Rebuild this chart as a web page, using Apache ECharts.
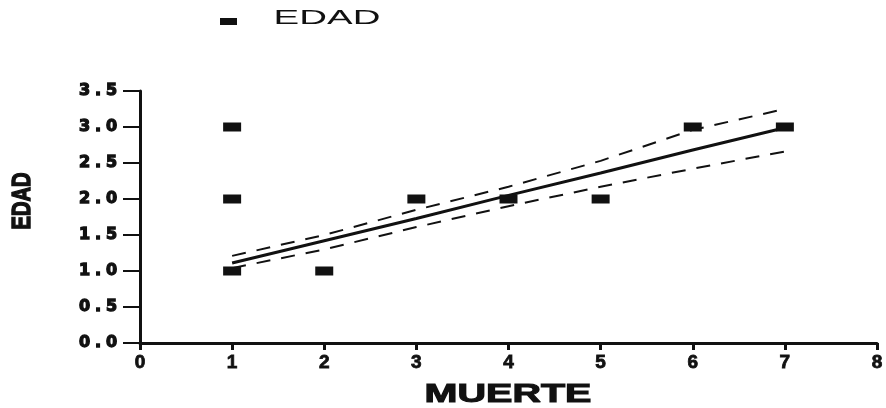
<!DOCTYPE html>
<html>
<head>
<meta charset="utf-8">
<script src="https://cdn.jsdelivr.net/npm/echarts@6/dist/echarts.min.js"></script>
<style>
  html, body { margin: 0; padding: 0; background: #fff; }
  #chart { width: 886px; height: 408px; }
</style>
</head>
<body>
<div id="chart"></div>
<script>
// Observed cases: MUERTE (x) against EDAD (y)
const muerte = [1, 1, 1, 2, 3, 4, 5, 6, 7];
const edad   = [1, 2, 3, 1, 2, 2, 2, 3, 3];

// Fitted line and its confidence band, sampled at each MUERTE value
const fitX   = [1, 2, 3, 4, 5, 6, 7];
const fitY   = [1.11, 1.42, 1.73, 2.05, 2.36, 2.68, 2.99];
const upperY = [1.21, 1.50, 1.85, 2.17, 2.53, 2.96, 3.25];
const lowerY = [1.04, 1.30, 1.61, 1.90, 2.17, 2.42, 2.66];

const seriesName = 'EDAD';
const xName = 'MUERTE';
const yName = 'EDAD';

const ink = '#111111';
const pairs = (xs, ys) => xs.map((x, i) => [x, ys[i]]);

const chart = echarts.init(document.getElementById('chart'), null, { renderer: 'canvas' });

// y tick labels drawn wide, one boxed cell per character
function wideLabel(v) {
  return v.toFixed(1).split('').map(c => c === '.' ? '{p|.}' : '{d|' + c + '}').join('');
}

const heavy = { textBorderColor: ink, textBorderWidth: 1.3 };

const option = {
  animation: false,
  backgroundColor: '#ffffff',
  grid: { left: 140, right: 9, top: 91, bottom: 65, containLabel: false },
  legend: {
    left: 215, top: 13,
    itemWidth: 17, itemHeight: 7,
    icon: 'rect',
    itemStyle: { color: ink, opacity: 1 },
    formatter: () => '',
    data: [seriesName]
  },
  xAxis: {
    type: 'value', min: 0, max: 8, interval: 1,
    axisLine: { show: true, onZero: false, lineStyle: { color: ink, width: 3 } },
    axisTick: { show: true, inside: false, length: 7, lineStyle: { color: ink, width: 3 } },
    axisLabel: {
      show: true, margin: 10, color: ink, fontSize: 19, fontWeight: 'bold',
      fontFamily: 'Liberation Sans, Arial, sans-serif',
      textBorderColor: ink, textBorderWidth: 0.8
    },
    splitLine: { show: false }
  },
  yAxis: {
    type: 'value', min: 0, max: 3.5, interval: 0.5,
    axisLine: { show: true, onZero: false, lineStyle: { color: ink, width: 3 } },
    axisTick: { show: true, inside: false, length: 17, lineStyle: { color: ink, width: 2 } },
    axisLabel: {
      show: true, margin: 20, color: ink,
      formatter: wideLabel,
      rich: {
        d: Object.assign({ fontSize: 16, fontWeight: 'bold', fontFamily: 'DejaVu Sans, sans-serif', width: 17, align: 'center', color: ink }, heavy),
        p: Object.assign({ fontSize: 16, fontWeight: 'bold', fontFamily: 'DejaVu Sans, sans-serif', width: 10, align: 'center', color: ink }, heavy)
      }
    },
    splitLine: { show: false }
  },
  graphic: [
    {
      type: 'text', x: 327, y: 18, scaleX: 1.83, scaleY: 1,
      style: { text: seriesName, font: '21px "Liberation Sans", Arial, sans-serif', fill: ink, align: 'center', verticalAlign: 'middle' }
    },
    {
      type: 'text', x: 508, y: 395, scaleX: 1.58, scaleY: 1,
      style: { text: xName, font: 'bold 25px "Liberation Sans", Arial, sans-serif', fill: ink, stroke: ink, lineWidth: 1, align: 'center', verticalAlign: 'middle' }
    },
    {
      type: 'text', x: 23, y: 201, rotation: Math.PI / 2, scaleX: 1.44, scaleY: 1.9,
      style: { text: yName, font: 'bold 14px "Liberation Sans", Arial, sans-serif', fill: ink, stroke: ink, lineWidth: 0.8, align: 'center', verticalAlign: 'middle' }
    }
  ],
  series: [
    {
      name: 'upper', type: 'line', data: pairs(fitX, upperY),
      showSymbol: false, symbol: 'none', silent: true, z: 2,
      lineStyle: { color: ink, width: 2, type: [14, 11] }
    },
    {
      name: 'lower', type: 'line', data: pairs(fitX, lowerY),
      showSymbol: false, symbol: 'none', silent: true, z: 2,
      lineStyle: { color: ink, width: 2, type: [14, 11] }
    },
    {
      name: 'fit', type: 'line', data: pairs(fitX, fitY),
      showSymbol: false, symbol: 'none', silent: true, z: 3,
      lineStyle: { color: ink, width: 3 }
    },
    {
      name: seriesName, type: 'scatter', data: pairs(muerte, edad),
      symbol: 'rect', symbolSize: [18, 9], z: 4,
      itemStyle: { color: ink, opacity: 1 }
    }
  ]
};

chart.setOption(option);
</script>
</body>
</html>
